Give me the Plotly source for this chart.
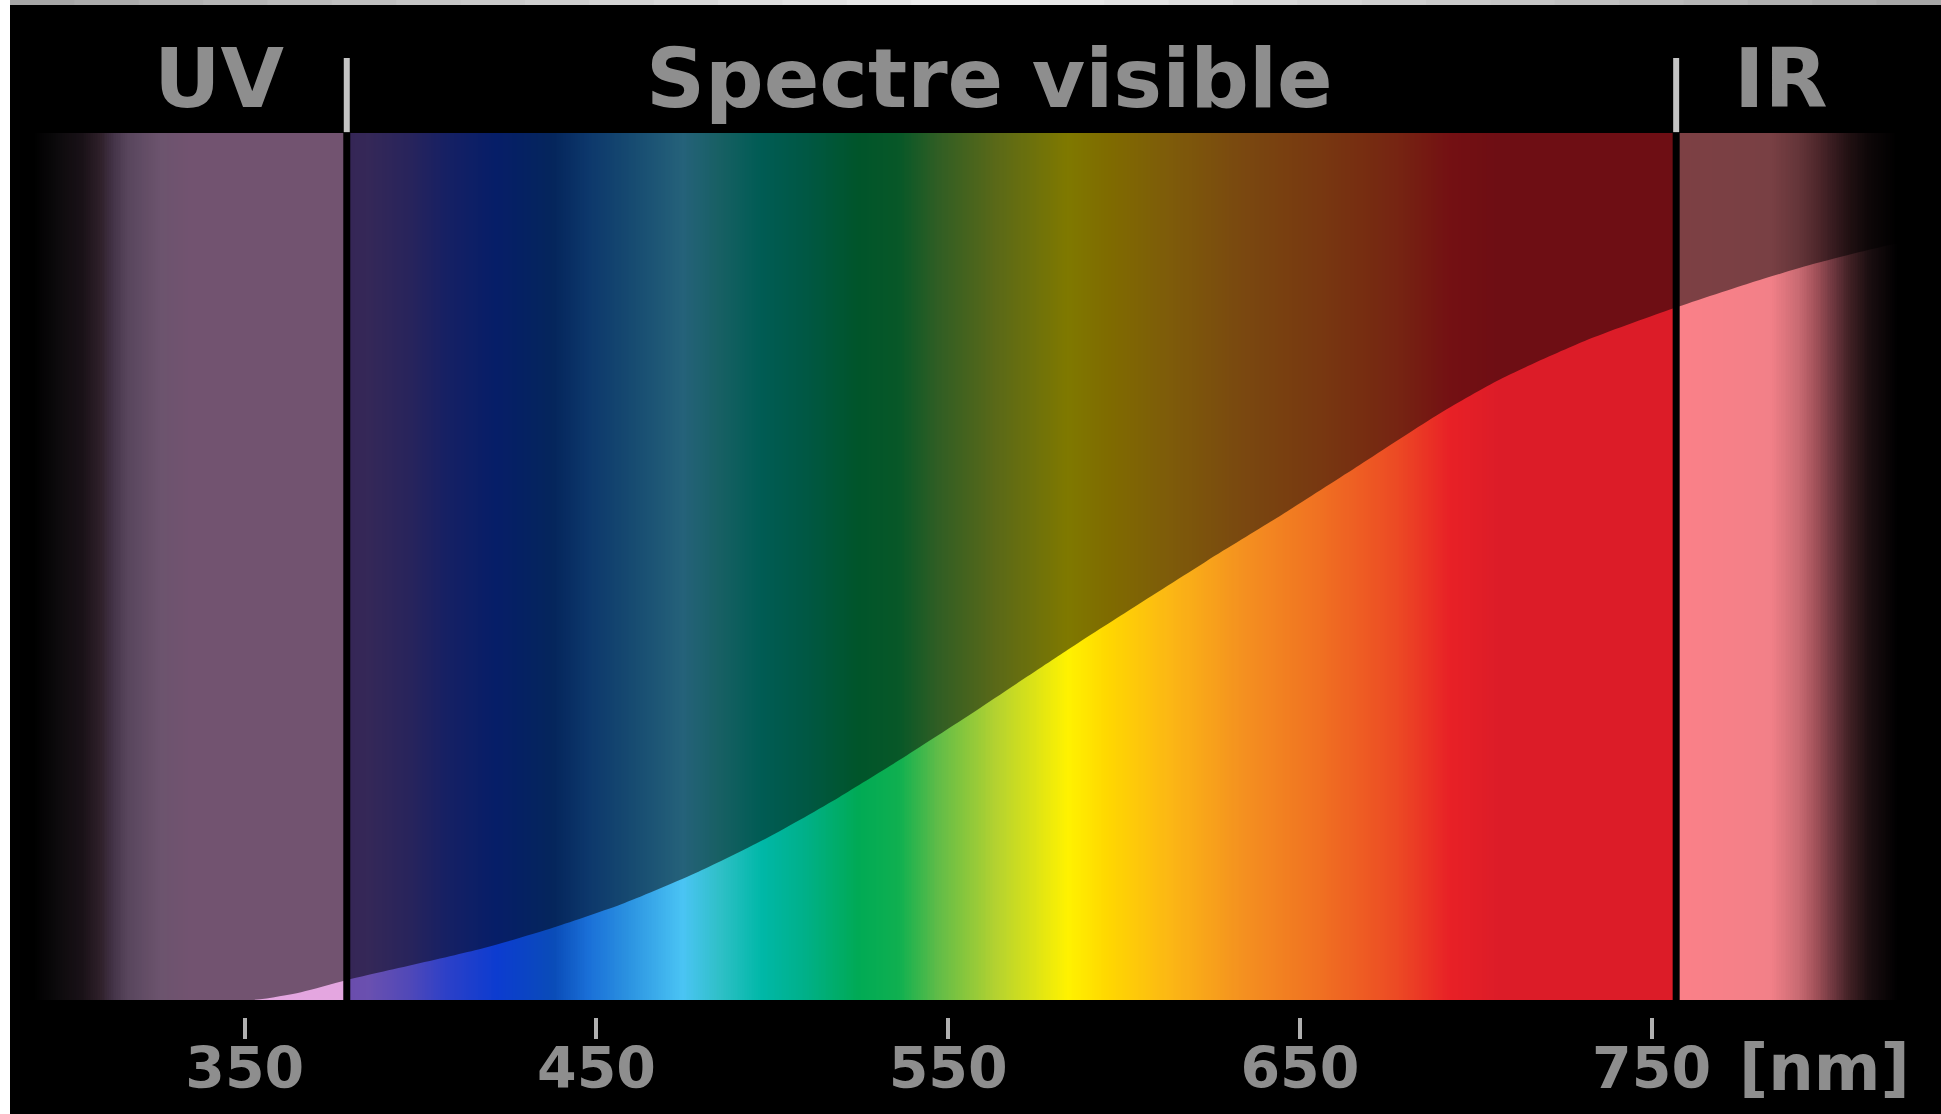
import numpy as np
import plotly.graph_objects as go

# ---------------- data ----------------
tick_nm = [350, 450, 550, 650, 750]
tick_text = ["350", "450", "550", "650", "750"]
unit_label = "[nm]"

region_labels = ["UV", "Spectre visible", "IR"]
region_label_nm = [342.7, 561.8, 786.7]
boundary_nm = [379, 757]

# relative sensitivity curve (boundary between bright and dimmed spectrum)
curve_nm = [280, 352, 366, 379, 418, 438, 458, 479, 499, 519, 536, 558, 584,
            602, 623, 645, 667, 690, 707, 731, 755, 778, 797, 820, 833]
curve_rel = [0.0, 0.0, 0.009, 0.023, 0.060, 0.084, 0.112, 0.148, 0.188, 0.234,
             0.2765, 0.334, 0.404, 0.451, 0.505, 0.560, 0.617, 0.677, 0.716,
             0.760, 0.796, 0.827, 0.850, 0.873, 0.884]

# spectrum colour stops (bright version)
spec_nm = [280, 290, 297, 304, 309, 312.5, 316.5, 326, 334, 379, 379.01,
           385, 397, 407.5, 421.7, 438, 448, 458.4, 474.6, 484.8, 496.8, 509,
           524.4, 536.3, 547.1, 563.6, 584.1, 595.1, 612.5, 634.1, 656, 677.6,
           693, 706.9, 757, 757.01, 784, 792, 797, 801.5, 806.4, 812, 820, 833]
spec_color = ["#000000", "#000000", "#1a161a", "#342430", "#5e4054", "#86668e",
              "#b08ab8", "#d8a8dc", "#e4a6e0", "#e4a6e0", "#6a4cac",
              "#6a50b0", "#5048b8", "#2c40c8", "#0c3cd0", "#0a4cb8", "#1a70d8",
              "#2a90e0", "#4ac4f4", "#30c0c8", "#00b8a8", "#00b08a",
              "#00aa55", "#10b050", "#60bc48", "#b4d230", "#fff200", "#ffd800",
              "#fcb814", "#f49020", "#f07022", "#ec4a24",
              "#e82026", "#dc1c28", "#dc1c28", "#fb8088", "#f28088", "#c86a72",
              "#a05058", "#703840", "#402024", "#1a0e10", "#000000", "#000000"]

# ---------------- geometry ----------------
W, H = 1941, 1114
X_MIN, X_MAX = 280.4, 832.3
Y_MIN, Y_MAX = -0.0196, 1.0865
M_T, M_B = 58, 97
plot_h = H - M_T - M_B
FONT = "DejaVu Sans"
TXT = "#8e8e8e"


def paper_y(px):
    return (H - M_B - px) / plot_h


zmin, zmax = spec_nm[0], spec_nm[-1]
colorscale = [[(n - zmin) / (zmax - zmin), c] for n, c in zip(spec_nm, spec_color)]

edges = np.arange(X_MIN, X_MAX + 0.5, 0.5)
centers = (edges[:-1] + edges[1:]) / 2
z = np.vstack([centers, centers])

fig = go.Figure()
fig.add_trace(go.Heatmap(x=edges, y=[0, 0.5, 1], z=z, colorscale=colorscale,
                         zmin=zmin, zmax=zmax, zsmooth=False, showscale=False,
                         hoverinfo="skip"))
fig.add_trace(go.Scatter(x=[curve_nm[0], curve_nm[-1]], y=[1, 1], mode="lines",
                         line=dict(width=0), hoverinfo="skip", showlegend=False))
fig.add_trace(go.Scatter(x=curve_nm, y=curve_rel, mode="lines",
                         line=dict(width=0, shape="spline", smoothing=0.7),
                         fill="tonexty", fillcolor="rgba(0,0,0,0.5)",
                         hoverinfo="skip", showlegend=False))

shapes = []
for b in boundary_nm:
    shapes.append(dict(type="line", xref="x", yref="y", x0=b, x1=b, y0=0, y1=1,
                       line=dict(color="#000000", width=7)))
    shapes.append(dict(type="line", xref="x", yref="y", x0=b, x1=b, y0=1.001,
                       y1=Y_MAX, line=dict(color="#c4c4c4", width=6)))
# white left strip
shapes.append(dict(type="rect", xref="paper", yref="paper", x0=0, x1=10 / W,
                   y0=-0.2, y1=1.2, line=dict(width=0), fillcolor="#ffffff"))
# grey top strip (lighter in the middle)
nseg = 30
for i in range(nseg):
    t = (i + 0.5) / nseg
    g = int(165 + 75 * (1 - abs(2 * t - 1)))
    shapes.append(dict(type="rect", xref="paper", yref="paper",
                       x0=10 / W + i * (1 - 10 / W) / nseg,
                       x1=10 / W + (i + 1) * (1 - 10 / W) / nseg + 0.001,
                       y0=paper_y(5), y1=paper_y(-5),
                       line=dict(width=0), fillcolor=f"rgb({g},{g},{g})"))

annotations = []
for lab, xn in zip(region_labels, region_label_nm):
    annotations.append(dict(text=lab, x=xn, xref="x", y=paper_y(79), yref="paper",
                            xanchor="center", yanchor="middle", showarrow=False,
                            font=dict(family=FONT, size=82, color=TXT, weight="bold")))
annotations.append(dict(text=unit_label, x=774.3, xref="x", y=paper_y(1068), yref="paper",
                        xanchor="left", yanchor="middle", showarrow=False,
                        font=dict(family=FONT, size=64, color=TXT, weight="bold")))

fig.update_layout(
    width=W, height=H, autosize=False,
    margin=dict(l=0, r=0, t=M_T, b=M_B, pad=0),
    paper_bgcolor="#000000", plot_bgcolor="#000000",
    showlegend=False,
    shapes=shapes, annotations=annotations,
    xaxis=dict(range=[X_MIN, X_MAX], tickvals=tick_nm, ticktext=tick_text,
               ticks="outside", ticklen=21, tickwidth=4, tickcolor="#b0b0b0",
               ticklabelstandoff=-19,
               tickfont=dict(family=FONT, size=57, color=TXT, weight="bold"),
               showgrid=False, zeroline=False, showline=False, automargin=False),
    yaxis=dict(range=[Y_MIN, Y_MAX], visible=False, showgrid=False, zeroline=False),
)

fig.write_html("out.html")
